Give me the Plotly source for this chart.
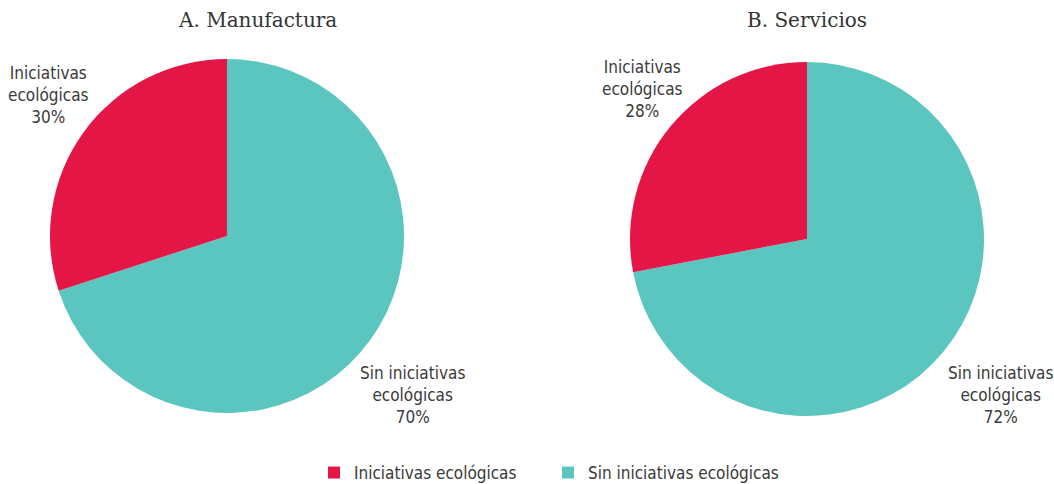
import plotly.graph_objects as go

W, H = 1054, 484
# order: the "Sin" slice first so that drawing clockwise from 12 o'clock leaves
# the red slice in the upper-left quadrant, as in the reference
labels = ["Sin iniciativas ecológicas", "Iniciativas ecológicas"]
manufactura = [70, 30]
servicios = [72, 28]
titles = ["A. Manufactura", "B. Servicios"]
colors = ["#5BC5C0", "#E31646"]

LABEL_FONT = dict(family="DejaVu Sans Condensed", size=17, color="#3a3a3a")
TITLE_FONT = dict(family="DejaVu Serif, Liberation Serif, serif", size=20, color="#333333")

def px_dom(x0, x1, y0, y1):
    return dict(x=[x0 / W, x1 / W], y=[1 - y1 / H, 1 - y0 / H])

fig = go.Figure()
fig.add_trace(go.Pie(
    labels=labels, values=manufactura, sort=False, direction="clockwise",
    rotation=0, marker=dict(colors=colors, line=dict(width=0)), textinfo="none",
    hoverinfo="label+percent", domain=px_dom(50, 404, 59, 413), showlegend=True,
))
fig.add_trace(go.Pie(
    labels=labels, values=servicios, sort=False, direction="clockwise",
    rotation=0, marker=dict(colors=colors, line=dict(width=0)), textinfo="none",
    hoverinfo="label+percent", domain=px_dom(630, 984, 62, 416), showlegend=False,
))

ann = []
def label_block(text, cx, cy):
    ann.append(dict(text=text, x=cx / W, y=1 - cy / H, xref="paper", yref="paper",
                    showarrow=False, font=LABEL_FONT, align="center",
                    xanchor="center", yanchor="middle"))

label_block(f"Iniciativas<br>ecológicas<br>{manufactura[1]}%", 48, 95)
label_block(f"Sin iniciativas<br>ecológicas<br>{manufactura[0]}%", 412, 395)
label_block(f"Iniciativas<br>ecológicas<br>{servicios[1]}%", 642, 89)
label_block(f"Sin iniciativas<br>ecológicas<br>{servicios[0]}%", 1000, 395)

for t, cx in zip(titles, [257, 807]):
    ann.append(dict(text=t, x=cx / W, y=1 - 20 / H, xref="paper", yref="paper",
                    showarrow=False, font=TITLE_FONT, xanchor="center", yanchor="middle"))

fig.update_layout(
    width=W, height=H, margin=dict(l=0, r=0, t=0, b=0, autoexpand=False),
    paper_bgcolor="white", plot_bgcolor="white",
    annotations=ann,
    legend=dict(orientation="h", x=314 / W, y=1 - 455 / H, xanchor="left", yanchor="top",
                traceorder="reversed",
                font=LABEL_FONT, itemwidth=30, tracegroupgap=0,
                entrywidthmode="pixels", entrywidth=189),
)
fig.write_html("out.html", config={"displayModeBar": False},
               post_script="document.body.style.margin='0';")
